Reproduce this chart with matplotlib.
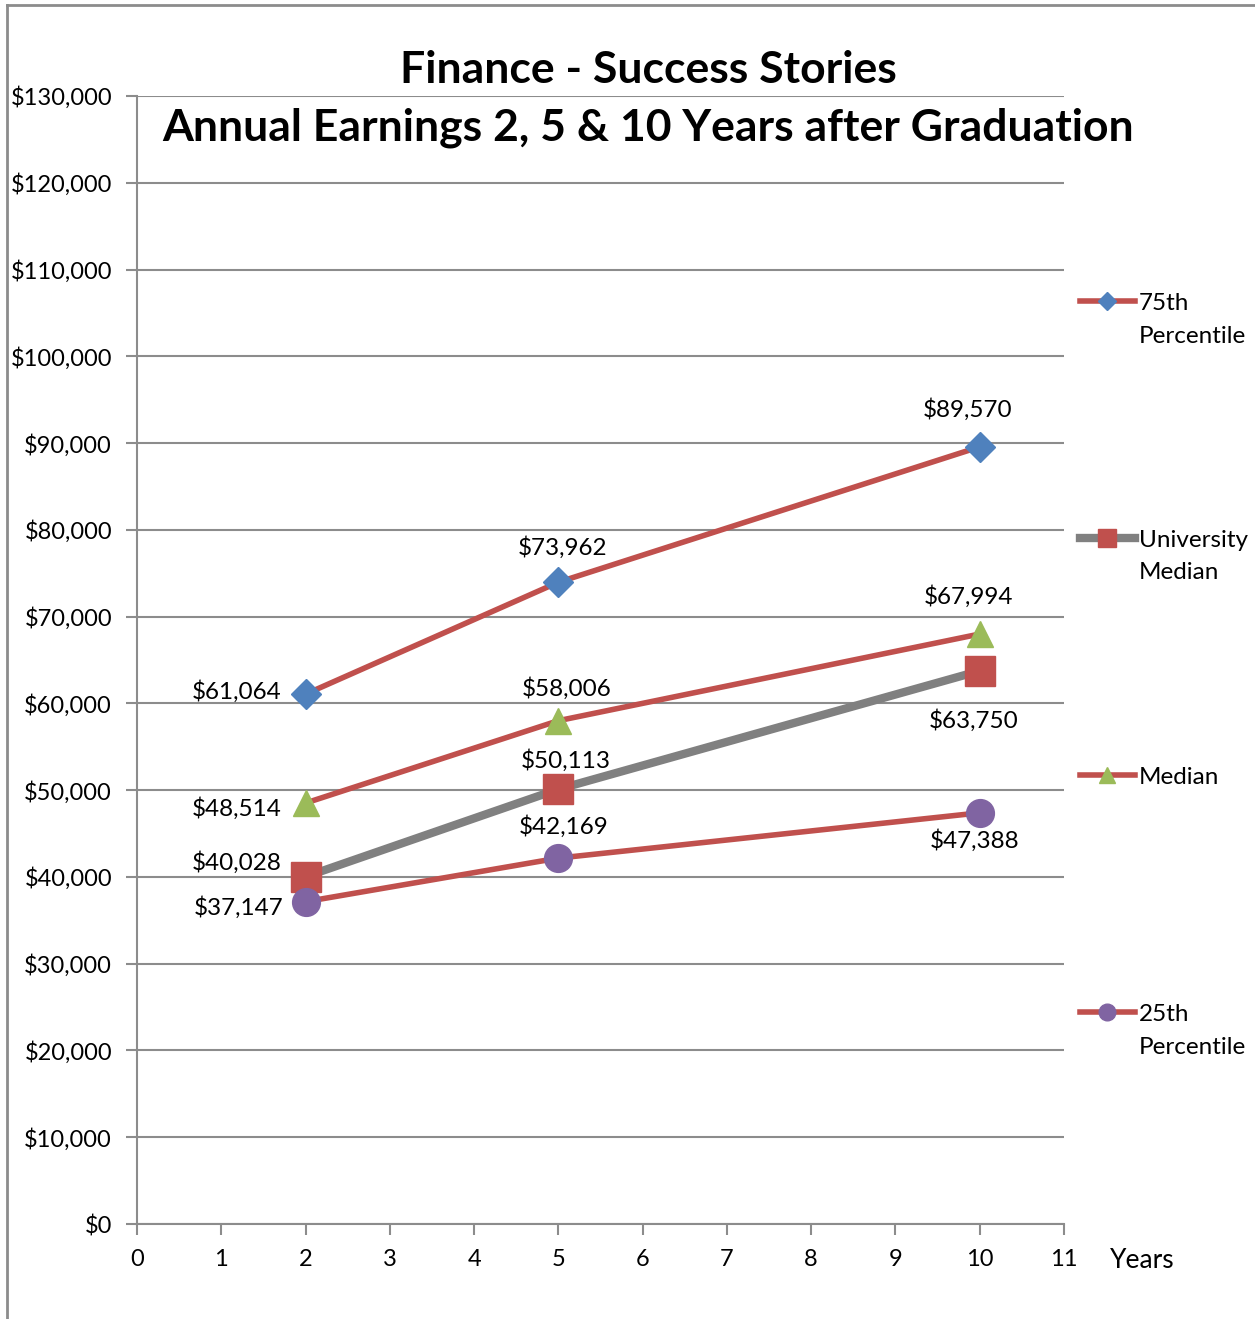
import matplotlib
matplotlib.use("Agg")
import matplotlib.pyplot as plt
from matplotlib.lines import Line2D

plt.rcParams['font.family'] = ['Lato', 'DejaVu Sans']

years = [2, 5, 10]
p75 = [61064, 73962, 89570]
univ_median = [40028, 50113, 63750]
median = [48514, 58006, 67994]
p25 = [37147, 42169, 47388]
legend_first = ["75th", "University", "Median", "25th"]
legend_second = ["Percentile", "Median", "", "Percentile"]
title_lines = ["Finance - Success Stories", "Annual Earnings 2, 5 & 10 Years after Graduation"]

RED = '#C0504D'
BLUE = '#4F81BD'
GREEN = '#9BBB59'
PURPLE = '#8064A2'
GRAY = '#808080'
GRID = '#8C8C8C'

W, H = 1255, 1319
fig = plt.figure(figsize=(W/100, H/100), dpi=100)
ax = fig.add_axes([137/W, 1 - 1224/H, (1064-137)/W, (1224-96)/H])

lw = 4
h1, = ax.plot(years, p75, color=RED, lw=lw, marker='D', ms=15, mfc=BLUE, mec=BLUE, zorder=4)
h2, = ax.plot(years, univ_median, color=GRAY, lw=6, marker='s', ms=22, mfc=RED, mec=RED, zorder=3)
h3, = ax.plot(years, median, color=RED, lw=lw, marker='^', ms=19, mfc=GREEN, mec=GREEN, zorder=4)
h4, = ax.plot(years, p25, color=RED, lw=lw, marker='o', ms=20, mfc=PURPLE, mec=PURPLE, zorder=4)

ax.set_xlim(0, 11)
ax.set_ylim(0, 130000)
ax.set_xticks(range(0, 12))
ax.set_yticks(range(0, 130001, 10000))
ax.set_yticklabels([f"${v:,}" for v in range(0, 130001, 10000)])
ax.yaxis.grid(True, color=GRID, lw=1.5)
ax.set_axisbelow(True)
for s in ['top', 'right']:
    ax.spines[s].set_visible(False)
for s in ['left', 'bottom']:
    ax.spines[s].set_color(GRID)
    ax.spines[s].set_linewidth(1.5)
ax.tick_params(axis='both', colors=GRID, width=1.5, length=8, labelsize=17, labelcolor='black')
ax.tick_params(axis='x', pad=10)
ax.tick_params(axis='y', pad=10)

fs = 17.5
def lab(x, y, dx, dy, ha='center'):
    ax.annotate(f"${y:,}", (x, y), xytext=(dx, dy), textcoords='offset pixels',
                ha=ha, va='center', fontsize=fs)

# 75th
lab(2, p75[0], -24, 3, 'right')
lab(5, p75[1], 4, 35)
lab(10, p75[2], -12, 37)
# Median
lab(2, median[0], -24, -5, 'right')
lab(5, median[1], 8, 32)
lab(10, median[2], -11, 38)
# University median
lab(2, univ_median[0], -24, 14, 'right')
lab(5, univ_median[1], 7, 29)
lab(10, univ_median[2], -6, -50)
# 25th
lab(2, p25[0], -22, -6, 'right')
lab(5, p25[1], 5, 32)
lab(10, p25[2], -5, -28)

fig.text(648/W, 1 - 70/H, title_lines[0], ha='center', va='center', fontsize=32, fontweight='bold')
fig.text(648/W, 1 - 128/H, title_lines[1], ha='center', va='center', fontsize=32, fontweight='bold')

fig.text(1110/W, 1 - 1261/H, "Years", ha='left', va='center', fontsize=19)

# Legend: one entry per block, evenly spaced down the right side
handles = [h1, h2, h3, h4]
ys = [303, 540, 777, 1014]
for hnd, t1, t2, yy in zip(handles, legend_first, legend_second, ys):
    lg = fig.legend([hnd], [t1], loc='center left', bbox_to_anchor=(1080/W, 1 - yy/H),
                    frameon=False, fontsize=17.5, handlelength=2.25, handletextpad=0.17,
                    markerscale=0.6, borderaxespad=0, borderpad=0)
    if t2:
        fig.text(1139/W, 1 - (yy + 33)/H, t2, ha='left', va='center', fontsize=17.5)

# Chart-area border (left and top lines)
fig.add_artist(Line2D([7/W, 7/W], [0, 1 - 5/H], transform=fig.transFigure, color='#8C8C8C', lw=2))
fig.add_artist(Line2D([7/W, 1], [1 - 5/H, 1 - 5/H], transform=fig.transFigure, color='#8C8C8C', lw=2))

fig.savefig("out.png", dpi=100)
